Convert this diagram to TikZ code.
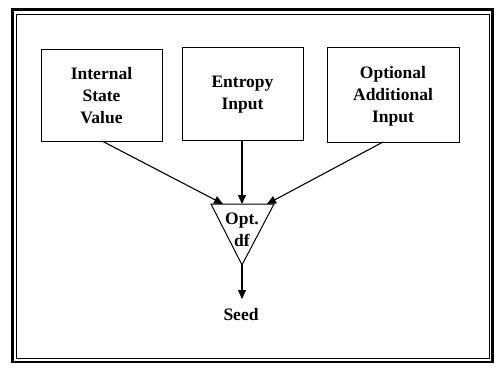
\documentclass[tikz,border=0pt]{standalone}
\usepackage{fontspec}
\setmainfont{Liberation Serif}
\usetikzlibrary{arrows.meta}
\begin{document}
\begin{tikzpicture}[x=1pt,y=-1pt,
  lbl/.style={font=\bfseries\fontsize{17.5}{22}\selectfont, align=center},
  feed/.style={line width=1.1pt, -{Triangle[length=9pt,width=8pt]}}]
\useasboundingbox (0,0) rectangle (503,368);
% double outer frame
\draw[line width=2.6pt] (12.5,9.5) rectangle (492.5,362);
\draw[line width=0.9pt] (16.5,14) rectangle (489,358.5);
% input boxes
\draw[line width=1pt] (41,49) rectangle (162,141);
\draw[line width=1pt] (182,47) rectangle (303,140);
\draw[line width=1pt] (327,47) rectangle (459,142);
\node[lbl] (isv) at (101.5,96) {Internal\\State\\Value};
\node[lbl] (ent) at (242.5,95) {Entropy\\Input};
\node[lbl] (opt) at (393,96) {Optional\\Additional\\Input};
\coordinate (isvb) at (102,141);
\coordinate (entb) at (242,140);
\coordinate (optb) at (383,142);
% derivation function triangle
\draw[line width=1pt, line join=miter] (211,204) -- (274,204) -- (242,265) -- cycle;
\coordinate (dfl) at (223,204);
\coordinate (dfm) at (242,204);
\coordinate (dfr) at (267,204);
\coordinate (dfb) at (242,265);
\node[lbl] (df) at (242,230) {Opt.\\df};
\draw[feed] (isvb) -- (dfl);
\draw[feed] (entb) -- (dfm);
\draw[feed] (optb) -- (dfr);
\coordinate (seedtop) at (242,299);
\draw[feed] (dfb) -- (seedtop);
\node[lbl] (seed) at (241,315) {Seed};
\end{tikzpicture}
\end{document}
